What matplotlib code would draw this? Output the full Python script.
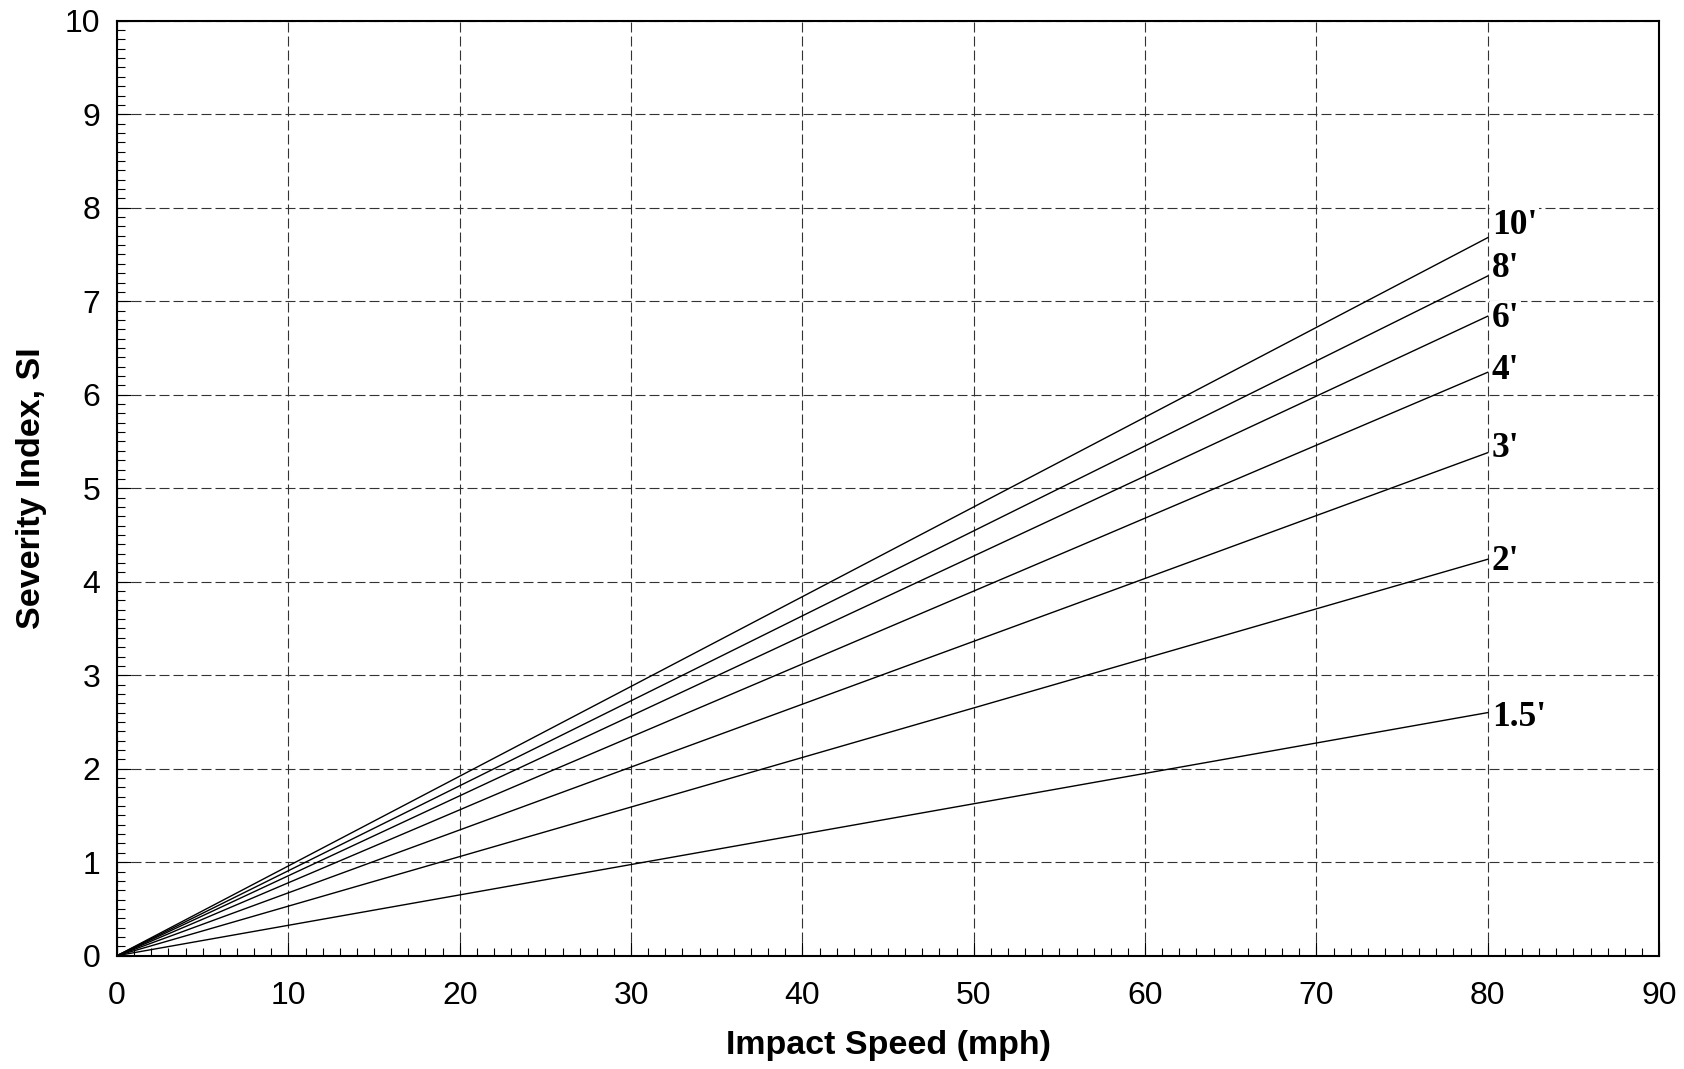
import matplotlib
matplotlib.use("Agg")
import matplotlib.pyplot as plt
from matplotlib.ticker import MultipleLocator

# ---- data ----
speeds = [0, 80]
series_labels = ["10'", "8'", "6'", "4'", "3'", "2'", "1.5'"]
si_at_80 = [7.68, 7.27, 6.84, 6.24, 5.38, 4.24, 2.60]
x_ticks = [0, 10, 20, 30, 40, 50, 60, 70, 80, 90]
y_ticks = [0, 1, 2, 3, 4, 5, 6, 7, 8, 9, 10]

# label vertical offsets (pixels, baseline relative to line end)
label_dy = [4, -1, -11, -7, -4, -11, -13]

plt.rcParams['font.family'] = ['Liberation Sans', 'DejaVu Sans']

fig = plt.figure(figsize=(16.84, 10.69), dpi=100)
ax = fig.add_axes([0.0695, 0.106, 0.9157, 0.8746])

ax.set_xlim(0, 90)
ax.set_ylim(0, 10)
ax.set_xticks(x_ticks)
ax.set_yticks(y_ticks)
ax.xaxis.set_minor_locator(MultipleLocator(1))
ax.yaxis.set_minor_locator(MultipleLocator(0.1))

ax.tick_params(which='both', direction='in', top=False, right=False, colors='black')
ax.tick_params(which='major', length=10, width=0.8, labelsize=23)
ax.tick_params(which='minor', length=6, width=0.8)
ax.tick_params(axis='x', which='major', pad=18)
ax.tick_params(axis='y', which='major', pad=12)

for sp in ax.spines.values():
    sp.set_linewidth(1.5)
    sp.set_color('black')

ax.set_axisbelow(True)
ax.grid(True, which='major', color='#333333', linewidth=0.8,
        linestyle=(0, (9.0, 3.6)))

for lab, v, dy in zip(series_labels, si_at_80, label_dy):
    ax.plot(speeds, [0, v], color='black', linewidth=1.0, zorder=3)
    ax.annotate(lab, xy=(speeds[-1], v), xytext=(4, dy), textcoords='offset pixels',
                ha='left', va='baseline', fontsize=25.5, fontweight='bold',
                family=['Liberation Serif', 'DejaVu Serif'], color='black',
                bbox=dict(boxstyle='square,pad=0.04', fc='white', ec='none'),
                zorder=4)

ax.set_xlabel('Impact Speed (mph)', fontsize=24.5, fontweight='bold', labelpad=14)
ax.set_ylabel('Severity Index, SI', fontsize=24.5, fontweight='bold', labelpad=13)

fig.savefig('out.png', dpi=100)
